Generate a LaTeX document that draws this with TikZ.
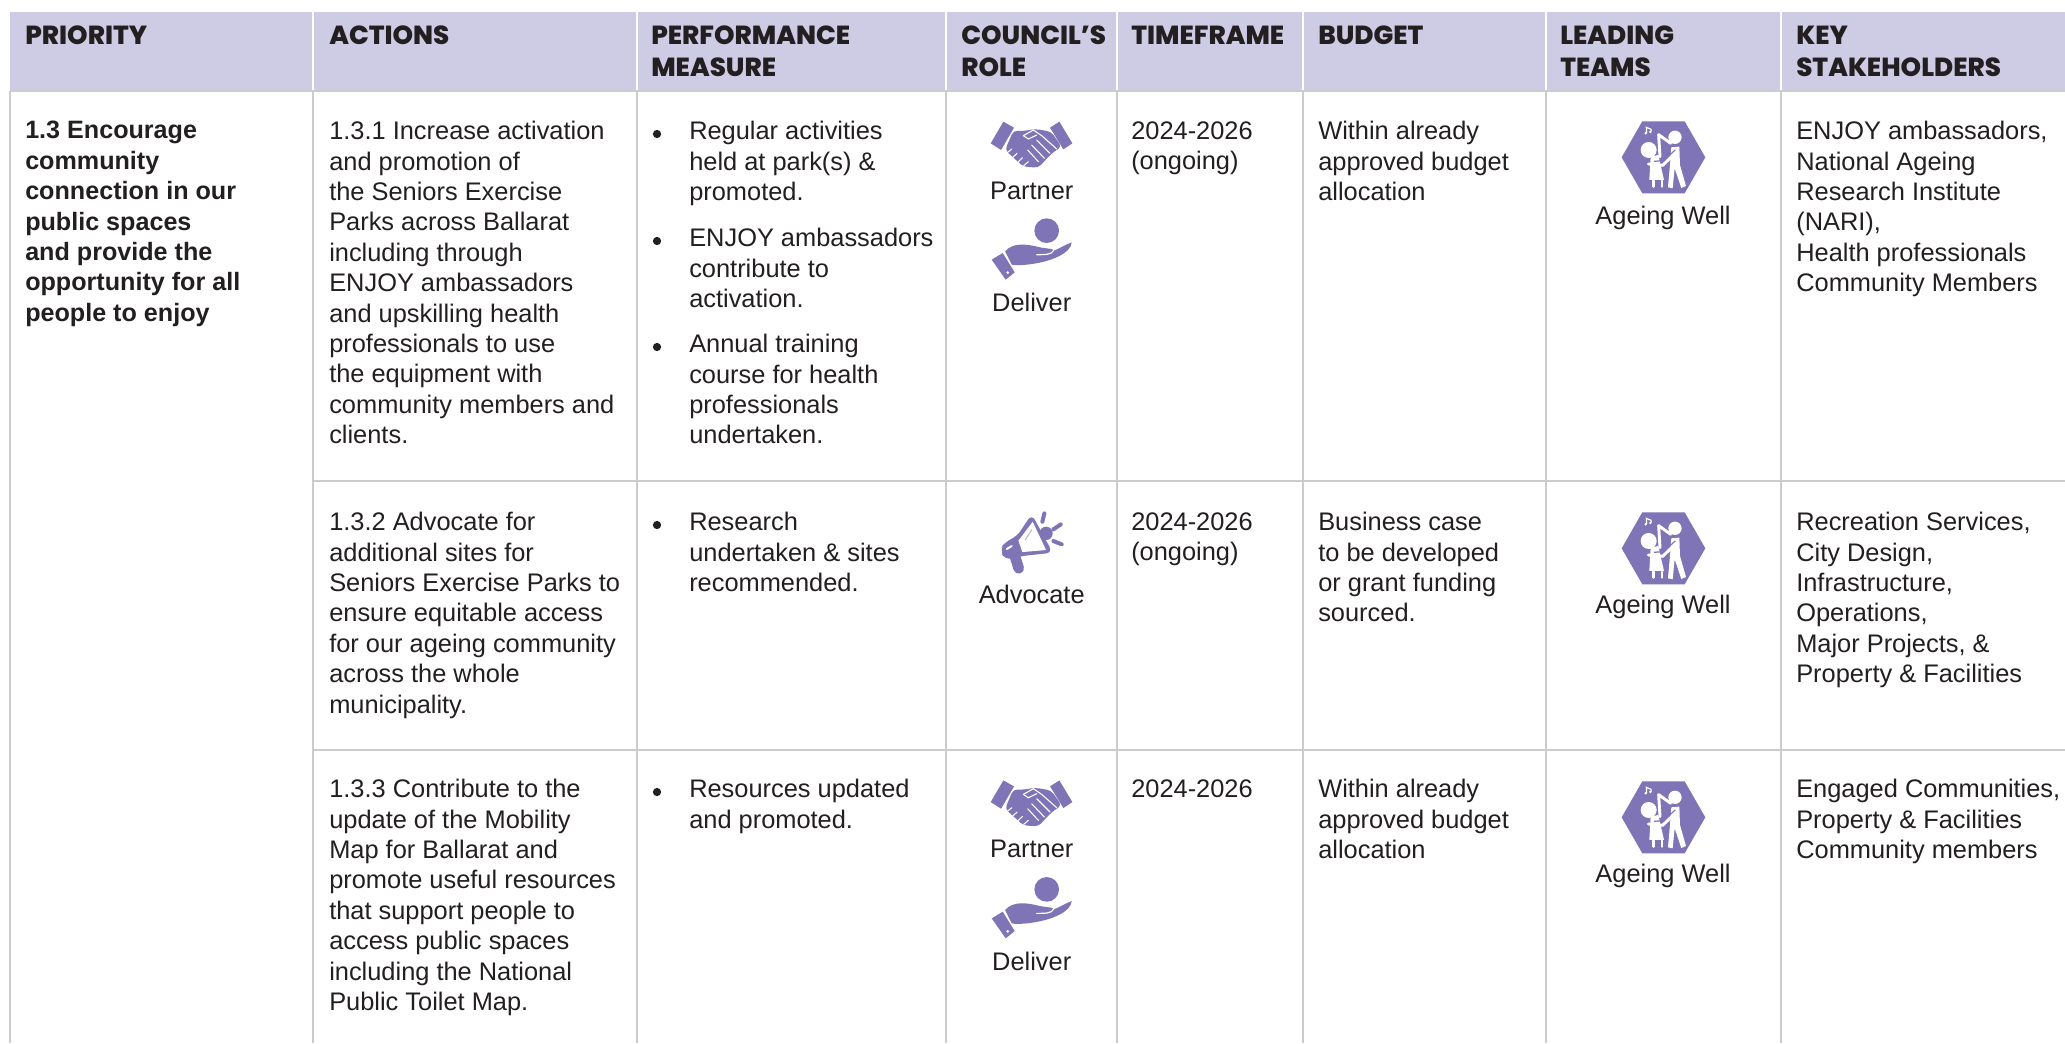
\documentclass[tikz,border=0pt]{standalone}
\usepackage{fontspec}
\setmainfont{Liberation Sans}
\newfontfamily\headfont{Poppins}[UprightFont=* ExtraBold]
\definecolor{headbg}{HTML}{CECBE5}
\definecolor{rulegray}{HTML}{CCCCCE}
\definecolor{iconpurple}{HTML}{7F74B6}
\definecolor{inktext}{HTML}{231F20}
\tikzset{
  x=0.75pt,y=-0.75pt,
  bodytext/.style={anchor=north west,inner sep=0pt,align=left,text=inktext,
    font=\fontsize{19.05}{22.8}\selectfont},
  boldtext/.style={bodytext,font=\fontsize{18.85}{22.8}\selectfont\bfseries},
  headtext/.style={anchor=north west,inner sep=0pt,align=left,text=inktext,
    font=\headfont\fontsize{19.6}{23.7}\selectfont},
  icontext/.style={anchor=center,inner sep=0pt,text=inktext,
    font=\fontsize{19.05}{22.8}\selectfont},
  bulletdot/.style={circle,fill=inktext,inner sep=0pt,minimum size=6.2pt},
  gridline/.style={draw=rulegray,line width=0.85pt},
  headgap/.style={draw=white,line width=1.1pt},
  handshake/.pic={
    \fill[iconpurple] (-85,-70)--(-53,-52)--(-92,15)--(-123,-5)--cycle;
    \fill[iconpurple] (83,-70)--(122,-5)--(95,13)--(55,-52)--cycle;
    \fill[iconpurple,rounded corners=3pt] (-55,-43)--(-25,-42)--(10,-48)--(58,-40)--(90,5)--(60,25)--(20,68)--(-25,65)--(-80,15)--cycle;
    \draw[white,line width=.8pt,line cap=round] (-25,-28)--(5,-45)--(30,-28)--(75,12);
    \draw[white,line width=.8pt,line cap=round] (-25,-28)--(-10,-18)--(15,-30);
    \draw[white,line width=.8pt,line cap=round] (15,-15)--(55,25) (0,0)--(38,40) (-12,15)--(20,50);
    \draw[white,line width=.8pt,line cap=round] (-60,12)--(-72,22) (-44,25)--(-58,38) (-28,38)--(-42,52) (-10,50)--(-24,62);
  },
  openhand/.pic={
    \fill[iconpurple] (45,-52) circle (37);
    \fill[iconpurple] (-120,35)--(-87,15)--(-51,73)--(-78,95)--cycle;
    \fill[iconpurple] (-80,10) .. controls (-55,-18) and (-15,-12) .. (25,-2)
      .. controls (50,3) and (65,1) .. (66,8)
      .. controls (85,1) and (105,-12) .. (120,-17)
      .. controls (118,15) and (60,42) .. (-15,50)
      .. controls (-35,52) and (-50,52) .. (-60,50) --cycle;
    \draw[white,line width=.9pt,line cap=round] (15,20) .. controls (40,20) and (60,20) .. (65,8);
    \fill[white] (-72,74) circle (4.5);
  },
  megaphone/.pic={
    \begin{scope}[shift={(-215,-125)}]
    \draw[iconpurple,line width=3pt,line cap=round] (247,65)--(253,40) (280,88)--(302,73) (280,123)--(305,133);
    \fill[iconpurple] (258,100) circle (20);
    \draw[iconpurple,line width=8pt,line cap=round] (165,170)--(176,205);
    \fill[iconpurple,rounded corners=5pt] (120,150)--(135,125)--(170,110)--(215,42)--(278,158)--(185,168)--(135,180)--cycle;
    \fill[white] (175,122)--(218,65)--(258,150)--(187,156)--cycle;
    \draw[iconpurple!50,line width=.8pt] (195,120)--(216,88);
    \draw[white,line width=1.5pt,line cap=round] (140,147)--(155,138);
    \end{scope}
  },
  hexpeople/.pic={
    \fill[iconpurple] (-125,0)--(-63,-108)--(64,-108)--(126,0)--(64,108)--(-63,108)--cycle;
    \begin{scope}[shift={(-250,-172)}]
    \fill[white] (285,112) circle (20);
    \fill[white] (206,150) circle (24);
    \fill[white] (274,142)--(298,140)--(300,195)--(318,258)--(304,264)--(284,205)--(278,265)--(264,262)--(270,195)--cycle;
    \draw[white,line width=2.2pt,line cap=round,line join=round] (272,130)--(236,104)--(240,170);
    \fill[white] (212,170)--(235,165)--(252,240)--(208,240)--cycle;
    \draw[iconpurple,line width=.9pt] (286,150)--(250,182)--(222,184);
    \draw[white,line width=2.2pt,line cap=round,line join=round] (294,152)--(248,196)--(205,192);
    \draw[white,line width=1.8pt,line cap=round] (220,242)--(220,260) (246,242)--(246,260);
    \fill[white] (197,100) circle (4) (211,96) circle (4);
    \draw[white,line width=.9pt] (200,99)--(199,82)--(213,88)--(214,95);
    \end{scope}
  }
}
\newcommand{\headcell}[4]{\node[headtext] (#1) at (#2,#3) {#4};}
\newcommand{\textcell}[4]{\node[bodytext] (#1) at (#2,#3) {#4};}
\newcommand{\bulletcell}[3]{%
  \node[bulletdot] (#1b) at (657,#2+13) {};
  \node[bodytext] (#1) at (689,#2) {#3};}
\begin{document}
\begin{tikzpicture}
\useasboundingbox (0,0) rectangle (2065,1043);
\fill[white] (0,0) rectangle (2065,1043);
% header band
\fill[headbg] (10,12) rectangle (2065,91);
\foreach \cx in {313,637,946,1117,1303,1546,1781} \draw[headgap] (\cx,12)--(\cx,91);
% grid
\draw[gridline] (10,91)--(2065,91);
\draw[gridline] (313,481)--(2065,481);
\draw[gridline] (313,750)--(2065,750);
\foreach \cx in {10,313,637,946,1117,1303,1546,1781} \draw[gridline] (\cx,91)--(\cx,1043);
% header text
\headcell{hA}{25}{26}{PRIORITY}
\headcell{hB}{329}{26}{ACTIONS}
\headcell{hC}{651}{26}{PERFORMANCE\\MEASURE}
\headcell{hD}{961}{26}{COUNCIL’S\\ROLE}
\headcell{hE}{1131}{26}{TIMEFRAME}
\headcell{hF}{1318}{26}{BUDGET}
\headcell{hG}{1560}{26}{LEADING\\TEAMS}
\headcell{hH}{1796}{26}{KEY\\STAKEHOLDERS}
% priority
\node[boldtext] (prio) at (25,121) {1.3 Encourage\\community\\connection in our\\public spaces\\and provide the\\opportunity for all\\people to enjoy};
% row 1
\textcell{aA}{329}{121}{1.3.1 Increase activation\\and promotion of\\the Seniors Exercise\\Parks across Ballarat\\including through\\ENJOY ambassadors\\and upskilling health\\professionals to use\\the equipment with\\community members and\\clients.}
\bulletcell{pA}{121}{Regular activities\\held at park(s) \&\\promoted.}
\bulletcell{pB}{228}{ENJOY ambassadors\\contribute to\\activation.}
\bulletcell{pC}{334}{Annual training\\course for health\\professionals\\undertaken.}
\pic at (1031.7,145) [scale=0.3333] {handshake};
\node[icontext] (rA) at (1031.7,190.5) {Partner};
\pic at (1031.7,248) [scale=0.3333] {openhand};
\node[icontext] (rB) at (1031.7,302) {Deliver};
\textcell{tA}{1131}{121}{2024-2026\\(ongoing)}
\textcell{bA}{1318}{121}{Within already\\approved budget\\allocation}
\pic at (1663.3,157.3) [scale=0.3333] {hexpeople};
\node[icontext] (lA) at (1663,217.5) {Ageing Well};
\textcell{kA}{1796}{121}{ENJOY ambassadors,\\National Ageing\\Research Institute\\(NARI),\\Health professionals\\Community Members}
% row 2
\textcell{aB}{329}{512}{1.3.2 Advocate for\\additional sites for\\Seniors Exercise Parks to\\ensure equitable access\\for our ageing community\\across the whole\\municipality.}
\bulletcell{pD}{512}{Research\\undertaken \& sites\\recommended.}
\pic at (1031.7,541.7) [scale=0.3333] {megaphone};
\node[icontext] (rC) at (1031.7,594.5) {Advocate};
\textcell{tB}{1131}{512}{2024-2026\\(ongoing)}
\textcell{bB}{1318}{512}{Business case\\to be developed\\or grant funding\\sourced.}
\pic at (1663.3,548.3) [scale=0.3333] {hexpeople};
\node[icontext] (lB) at (1663,607) {Ageing Well};
\textcell{kB}{1796}{512}{Recreation Services,\\City Design,\\Infrastructure,\\Operations,\\Major Projects, \&\\Property \& Facilities}
% row 3
\textcell{aC}{329}{779}{1.3.3 Contribute to the\\update of the Mobility\\Map for Ballarat and\\promote useful resources\\that support people to\\access public spaces\\including the National\\Public Toilet Map.}
\bulletcell{pE}{779}{Resources updated\\and promoted.}
\pic at (1031.7,803.7) [scale=0.3333] {handshake};
\node[icontext] (rD) at (1031.7,849) {Partner};
\pic at (1031.7,906.7) [scale=0.3333] {openhand};
\node[icontext] (rE) at (1031.7,961.5) {Deliver};
\textcell{tC}{1131}{779}{2024-2026}
\textcell{bC}{1318}{779}{Within already\\approved budget\\allocation}
\pic at (1663.3,817.3) [scale=0.3333] {hexpeople};
\node[icontext] (lC) at (1663,876) {Ageing Well};
\textcell{kC}{1796}{779}{Engaged Communities,\\Property \& Facilities\\Community members}
\end{tikzpicture}
\end{document}
